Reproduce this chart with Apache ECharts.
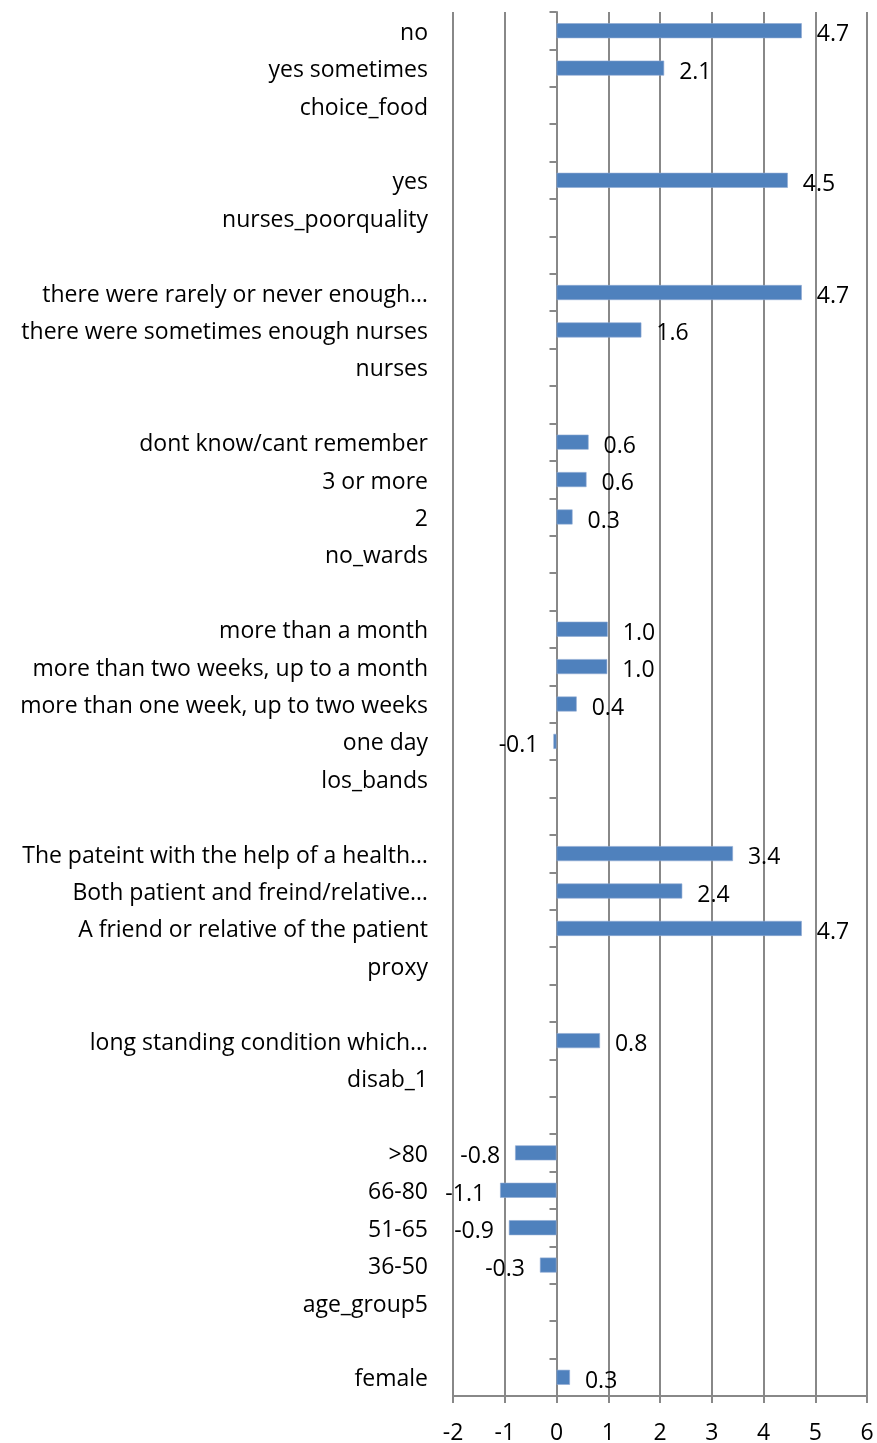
<!DOCTYPE html>
<html>
<head>
<meta charset="utf-8">
<title>chart</title>
<script src="https://cdn.jsdelivr.net/npm/echarts@6/dist/echarts.min.js"></script>
<style>
    html, body { margin: 0; padding: 0; background: #fff; }
    #main { width: 877px; height: 1443px; }
</style>
</head>
<body>
<div id="main"></div>
<script>
// categories, top to bottom (blank rows are spacers between groups)
var categories = [
    'no', 'yes sometimes', 'choice_food', '',
    'yes', 'nurses_poorquality', '',
    'there were rarely or never enough\u2026', 'there were sometimes enough nurses', 'nurses', '',
    'dont know/cant remember', '3 or more', '2', 'no_wards', '',
    'more than a month', 'more than two weeks, up to a month', 'more than one week, up to two weeks', 'one day', 'los_bands', '',
    'The pateint with the help of a health\u2026', 'Both patient and freind/relative\u2026', 'A friend or relative of the patient', 'proxy', '',
    'long standing condition which\u2026', 'disab_1', '',
    '>80', '66-80', '51-65', '36-50', 'age_group5', '',
    'female'
];
var values = [
    4.74, 2.08, null, null,
    4.47, null, null,
    4.74, 1.64, null, null,
    0.62, 0.58, 0.31, null, null,
    0.99, 0.98, 0.39, -0.06, null, null,
    3.41, 2.43, 4.74, null, null,
    0.84, null, null,
    -0.80, -1.09, -0.92, -0.32, null, null,
    0.26
];
var xTicks = [-2, -1, 0, 1, 2, 3, 4, 5, 6];

// blank rows need distinct names on the category axis
var catNames = categories.map(function (c, i) {
    return c === '' ? ' '.repeat(i + 1) : c;
});

var FONT = 'Open Sans';
var GRAY = '#888888';

var barData = values.map(function (v) {
    if (v === null) return null;
    return {
        value: v,
        label: { position: v < 0 ? 'left' : 'right' }
    };
});

var chart = echarts.init(document.getElementById('main'));
chart.setOption({
    animation: false,
    grid: {
        left: 453, right: 10, top: 12, bottom: 47,
        containLabel: false,
        outerBoundsMode: 'none'
    },
    xAxis: {
        type: 'value',
        min: xTicks[0],
        max: xTicks[xTicks.length - 1],
        interval: 1,
        axisLine: { show: true, lineStyle: { color: GRAY, width: 2 } },
        axisTick: { show: true, length: 7, lineStyle: { color: GRAY, width: 2 } },
        axisLabel: { color: '#000', fontSize: 23, fontFamily: FONT, margin: 26 },
        splitLine: { show: true, lineStyle: { color: GRAY, width: 2 } }
    },
    yAxis: {
        type: 'category',
        inverse: true,
        data: catNames,
        axisLine: { show: true, onZero: true, lineStyle: { color: GRAY, width: 2 } },
        axisTick: { show: true, length: 7, lineStyle: { color: GRAY, width: 2 } },
        axisLabel: {
            color: '#000', fontSize: 23, fontFamily: FONT,
            margin: 25, interval: 0,
            // nudge the text a little lower, as in the original
            formatter: function (v) { return '{a|' + v + '}'; },
            rich: {
                a: { color: '#000', fontSize: 23, fontFamily: FONT, padding: [5, 0, 0, 0] }
            }
        }
    },
    series: [{
        type: 'bar',
        data: barData,
        barWidth: 15,
        itemStyle: { color: '#4F81BD', borderColor: '#8FAAD4', borderWidth: 0.6 },
        label: {
            show: true,
            distance: 15,
            offset: [0, 4],
            color: '#000',
            fontSize: 23,
            fontFamily: FONT,
            formatter: function (p) {
                return p.value.toFixed(1);
            }
        }
    }]
});
</script>
</body>
</html>
